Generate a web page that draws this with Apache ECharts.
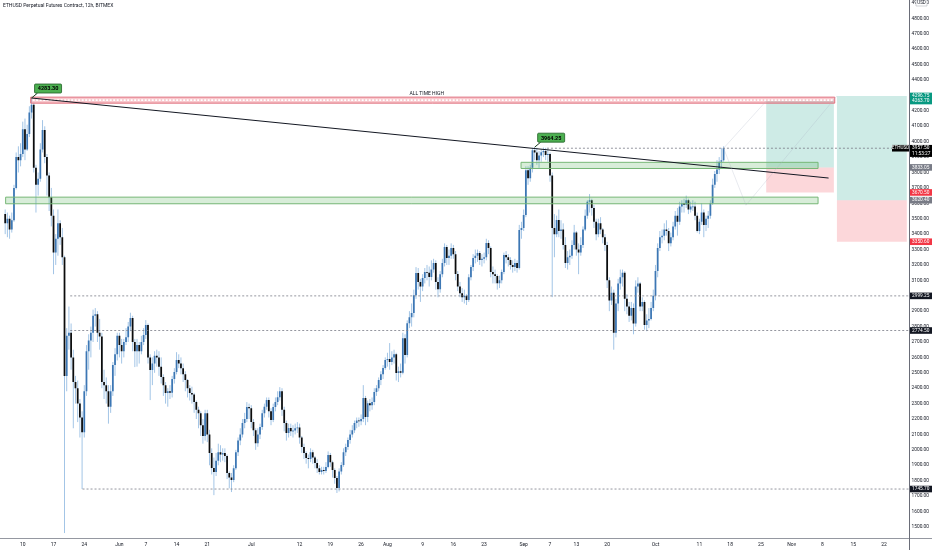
<!DOCTYPE html>
<html>
<head>
<meta charset="utf-8">
<title>ETHUSD Perpetual Futures Contract, 12h, BITMEX</title>
<script src="https://cdn.jsdelivr.net/npm/echarts@6/dist/echarts.min.js"></script>
<style>
html, body { margin: 0; padding: 0; background: #fff; }
#chart { width: 932px; height: 550px; }
</style>
</head>
<body>
<div id="chart"></div>
<script>
// 12h candles, one row per candle: [close, low, high]; open = previous close
// first candle opens 6 May 2021 00:00, x unit = days from 10 May
var firstOpen = 3530;
var firstDay = -4;

var may = [
  [3470,3400,3560],[3500,3380,3540],[3430,3370,3520],[3490,3410,3540],
  [3700,3480,3720],[3900,3690,3930],[3880,3800,3970],[3920,3840,3990],
  [4080,3900,4130],[3950,3880,4150],[4050,3940,4110],[4190,4030,4230],
  [4240,4150,4283.3],[3830,3800,4250],[3720,3540,3850],[3760,3650,3800],
  [3950,3740,3990],[4075,3930,4140],[3900,3860,4100],[3780,3650,3920],
  [3640,3550,3800],[3520,3450,3700],[3280,3140,3560],[3370,3200,3400],
  [3470,3260,3560],[3380,3330,3490],[3250,3200,3440],[2480,1460,3260],
  [2740,2380,2790],[2760,2650,2930],[2600,2520,2820],[2440,2140,2650],
  [2400,2300,2480],[2300,2180,2450],[2210,2080,2330],[2115,1745.7,2250],
  [2380,2080,2420],[2640,2350,2680],[2710,2520,2750],[2760,2600,2800],
  [2870,2700,2910],[2880,2800,2920],[2760,2700,2900],[2735,2650,2850],
  [2440,2400,2760],[2420,2330,2520],[2380,2300,2470],[2280,2170,2420],
  [2380,2240,2420],[2550,2350,2570],[2620,2480,2660],[2740,2580,2760]
];
var jun = [
  [2680,2600,2760],[2640,2560,2720],[2700,2600,2720],[2730,2680,2790],
  [2800,2700,2830],[2855,2770,2890],[2700,2640,2870],[2640,2537,2720],
  [2680,2540,2720],[2640,2560,2700],[2700,2620,2740],[2745,2680,2790],
  [2810,2720,2842],[2600,2560,2820],[2518,2323,2620],[2560,2420,2600],
  [2610,2500,2640],[2600,2540,2650],[2540,2480,2640],[2472,2430,2600],
  [2420,2350,2490],[2369,2300,2440],[2380,2280,2400],[2370,2330,2420],
  [2460,2340,2480],[2505,2430,2530],[2583,2490,2634],[2560,2530,2620],
  [2530,2490,2600],[2490,2440,2560],[2453,2380,2510],[2400,2340,2460],
  [2369,2320,2420],[2360,2300,2410],[2310,2240,2370],[2260,2200,2320],
  [2238,2140,2280],[2160,2090,2250],[2090,2040,2200],[2238,2060,2260],
  [2100,2050,2260],[1979,1900,2130],[1882,1840,2010],[1856,1706,1950],
  [1930,1830,1980],[1985,1900,2040],[1970,1920,2030],[1980,1930,2010],
  [1960,1920,2010],[1849,1810,1970],[1820,1750,1860],[1804,1726,1850],
  [1880,1790,1900],[1985,1870,2000],[2060,1960,2080],[2100,2030,2140],
  [2174,2080,2200],[2200,2140,2240],[2278,2180,2310],[2270,2200,2300]
];
var jul = [
  [2180,2140,2290],[2128,2090,2200],[2043,2000,2140],[2100,2020,2140],
  [2148,2070,2170],[2238,2130,2260],[2280,2210,2300],[2323,2260,2340],
  [2250,2210,2340],[2193,2160,2270],[2278,2180,2300],[2310,2250,2340],
  [2342,2290,2380],[2381,2320,2407],[2260,2220,2400],[2174,2120,2280],
  [2109,2060,2190],[2141,2080,2170],[2120,2090,2170],[2125,2080,2160],
  [2140,2100,2170],[2145,2110,2180],[2080,2040,2170],[2018,1980,2090],
  [1980,1940,2040],[1947,1910,1990],[1940,1880,1970],[1985,1920,2010],
  [1950,1910,2000],[1914,1880,1960],[1880,1850,1940],[1856,1840,1900],
  [1870,1840,1890],[1862,1840,1890],[1888,1850,1920],[1966,1880,1990],
  [1920,1890,1980],[1869,1820,1930],[1817,1780,1880],[1752,1720,1830],
  [1860,1730,1880],[1901,1840,1920],[1985,1890,2010],[2018,1960,2040],
  [2064,2000,2080],[2100,2040,2130],[2128,2080,2160],[2174,2110,2190],
  [2190,2140,2210],[2185,2150,2210],[2200,2160,2230],[2336,2180,2420],
  [2213,2160,2350],[2303,2180,2320],[2290,2250,2330],[2310,2260,2340],
  [2375,2290,2400],[2400,2350,2420],[2453,2380,2470],[2490,2420,2510],
  [2531,2460,2550],[2583,2520,2600]
];
var aug = [
  [2590,2540,2630],[2570,2520,2693],[2600,2550,2640],[2620,2560,2650],
  [2498,2450,2630],[2510,2440,2540],[2500,2470,2560],[2725,2490,2760],
  [2615,2560,2750],[2822,2600,2840],[2860,2790,2900],[2888,2800,2950],
  [3004,2860,3040],[3147,2980,3186],[3089,3040,3180],[3060,2960,3110],
  [3115,3030,3140],[3154,3080,3180],[3150,3100,3200],[3121,3060,3190],
  [3170,3100,3230],[3212,3150,3240],[3089,3040,3230],[3043,2990,3120],
  [3140,3020,3160],[3212,3120,3240],[3316,3190,3340],[3245,3200,3330],
  [3260,3200,3300],[3310,3240,3340],[3270,3240,3330],[3141,3100,3290],
  [3060,3030,3160],[3017,2990,3090],[2990,2960,3050],[3000,2950,3040],
  [2972,2940,3010],[3120,2960,3140],[3186,3100,3200],[3245,3160,3270],
  [3260,3210,3300],[3277,3220,3300],[3232,3200,3290],[3240,3190,3270],
  [3250,3210,3280],[3342,3230,3370],[3310,3270,3360],[3154,3120,3320],
  [3140,3080,3190],[3128,3080,3170],[3082,3040,3140],[3100,3050,3130],
  [3154,3080,3170],[3264,3140,3280],[3250,3210,3290],[3232,3190,3270],
  [3200,3170,3250],[3186,3150,3230],[3212,3160,3240],[3180,3150,3230],
  [3426,3170,3460],[3440,3370,3480]
];
var sep = [
  [3524,3420,3560],[3815,3510,3840],[3763,3720,3840],[3830,3740,3850],
  [3945,3800,3960],[3930,3880,3964.25],[3880,3850,3960],[3910,3830,3940],
  [3932,3870,3950],[3940,3900,3962],[3913,3880,3960],[3920,3870,3950],
  [3780,3740,3930],[3439,2991,3800],[3400,3250,3530],[3491,3380,3520],
  [3420,3380,3560],[3430,3370,3490],[3330,3300,3470],[3212,3180,3380],
  [3250,3170,3290],[3260,3200,3300],[3330,3240,3360],[3410,3300,3460],
  [3300,3260,3420],[3280,3140,3340],[3330,3260,3380],[3430,3310,3450],
  [3520,3420,3560],[3610,3500,3620],[3620,3540,3660],[3570,3520,3630],
  [3480,3440,3590],[3400,3360,3500],[3470,3380,3500],[3430,3400,3510],
  [3380,3340,3440],[3330,3290,3400],[3100,3050,3350],[2970,2900,3120],
  [3020,2940,3060],[2760,2650,3040],[2950,2730,2980],[3080,2900,3110],
  [3120,3040,3170],[3150,3060,3170],[2980,2900,3160],[2930,2880,3010],
  [2870,2830,2960],[2920,2840,2960],[2820,2750,2950],[3060,2800,3100],
  [3080,3020,3120],[2930,2900,3090],[2960,2900,2990],[2810,2780,2970],
  [2840,2770,2880],[2850,2790,2920],[2920,2840,2960],[3000,2900,3040]
];
var oct = [
  [3160,2970,3200],[3310,3120,3340],[3380,3290,3420],[3390,3340,3430],
  [3430,3360,3470],[3420,3390,3490],[3340,3290,3440],[3380,3320,3410],
  [3450,3360,3480],[3520,3430,3550],[3480,3390,3570],[3580,3460,3610],
  [3600,3540,3620],[3590,3540,3630],[3620,3570,3650],[3560,3530,3630],
  [3580,3540,3610],[3580,3550,3620],[3520,3490,3610],[3420,3410,3540],
  [3480,3400,3500],[3540,3460,3600],[3460,3380,3560],[3500,3420,3520],
  [3520,3440,3550],[3600,3500,3620],[3720,3590,3760],[3790,3700,3810],
  [3820,3740,3880],[3870,3790,3900],[3880,3830,3960],[3957.5,3870,3970]
];

// date labels on the time axis: [day, text]
var xTicks = [
  [0,'10'],[7,'17'],[14,'24'],[22,'Jun'],[28,'7'],[35,'14'],[42,'21'],
  [52,'Jul'],[63,'12'],[70,'19'],[77,'26'],[83,'Aug'],[91,'9'],[98,'16'],
  [105,'23'],[114,'Sep'],[120,'7'],[126,'13'],[133,'20'],[144,'Oct'],
  [154,'11'],[161,'18'],[168,'25'],[175,'Nov'],[182,'8'],[189,'15'],[196,'22']
];

// drawings: [dayFrom, priceLow, dayTo, priceHigh]
var athZone = [[1.8, 4250, 184.8, 4289]];
var supportZones = [[-3.9, 3597, 181, 3640], [113.4, 3826, 181, 3866]];
var targetZones = [[169.2, 3833.05, 184.6, 4263.7], [185.3, 3620.4, 201.2, 4296.75]];
var stopZones = [[169.2, 3670.5, 184.6, 3833.05], [185.3, 3350.6, 201.2, 3620.4]];
var trendLine = [[2, 4283.3], [183.4, 3764]];
var projA = [[159.5, 3957.5], [169.2, 4263.7]];
var projB = [[159.5, 3957.5], [164.6, 3588], [185.3, 4296.75]];
// dotted horizontal levels: [dayFrom, price]
var levels = [[10.8, 2999.25], [10.8, 2774.5], [13.6, 1745.7], [119.3, 3957.5]];
var callouts = [[2, 4283.3], [116.5, 3964.25]];

// price tags on the right scale
var tealTags = [[4296.75, '4296.75'], [4263.7, '4263.70']];
var grayTags = [[3833.05, '3833.05'], [3620.4, '3620.40']];
var redTags = [[3670.5, '3670.50'], [3350.6, '3350.60']];
var blackTags = [[2999.25, '2999.25'], [2774.5, '2774.50'], [1745.7, '1745.70']];
var lastPrice = 3957.5;
var countdown = '11:53:27';

var xMin = -4.5, xMax = 201.6;

// build candle rows [t, open, close, low, high]
var candles = [];
var prev = firstOpen;
[may, jun, jul, aug, sep, oct].forEach(function (month) {
  month.forEach(function (r) {
    candles.push([firstDay + candles.length * 0.5, prev, r[0], r[1], r[2]]);
    prev = r[0];
  });
});

var tickMap = {};
xTicks.forEach(function (t) { tickMap[t[0]] = t[1]; });

function drawCandle(params, api) {
  var t = api.value(0);
  var o = api.coord([t, api.value(1)]);
  var c = api.coord([t, api.value(2)]);
  var lo = api.coord([t, api.value(3)]);
  var hi = api.coord([t, api.value(4)]);
  var w = api.size([0.5, 0])[0] * 0.8;
  var up = api.value(2) >= api.value(1);
  var top = Math.min(o[1], c[1]);
  var h = Math.max(Math.abs(o[1] - c[1]), 0.8);
  return {
    type: 'group',
    children: [
      { type: 'line', shape: { x1: hi[0], y1: hi[1], x2: lo[0], y2: lo[1] },
        style: { stroke: '#a3c5e6', lineWidth: 1 } },
      { type: 'rect', shape: { x: o[0] - w / 2, y: top, width: w, height: h },
        style: { fill: up ? '#3d77b4' : '#0c0c0c' } }
    ]
  };
}

function zoneRenderer(fill, stroke, extra) {
  return function (params, api) {
    var a = api.coord([api.value(0), api.value(3)]);
    var b = api.coord([api.value(2), api.value(1)]);
    var kids = [{
      type: 'rect',
      shape: { x: a[0], y: a[1], width: b[0] - a[0], height: b[1] - a[1] },
      style: { fill: fill, stroke: stroke || null, lineWidth: stroke ? 1 : 0 }
    }];
    if (extra) kids = kids.concat(extra(a, b));
    return { type: 'group', children: kids };
  };
}

function athExtras(a, b) {
  var mid = (a[1] + b[1]) / 2;
  return [
    { type: 'line', shape: { x1: a[0] + 2, y1: mid, x2: b[0] - 2, y2: mid },
      style: { stroke: '#ffffff', lineWidth: 1.6, lineDash: [2, 1.5] } },
    { type: 'text', x: (a[0] + b[0]) / 2 - 6, y: a[1] - 1,
      style: { text: 'ALL TIME HIGH', fill: '#131722', fontSize: 5, fontFamily: 'Roboto',
        align: 'center', verticalAlign: 'bottom', textAlign: 'center', textVerticalAlign: 'bottom' } }
  ];
}

function drawCallout(params, api) {
  var p = api.coord([api.value(0), api.value(1)]);
  var bx = p[0] + 3, by = p[1] - 14, bw = 27, bh = 9;
  return {
    type: 'group',
    children: [
      { type: 'line', shape: { x1: p[0], y1: p[1], x2: bx + 3, y2: by + bh },
        style: { stroke: '#1b3d1f', lineWidth: 1 } },
      { type: 'rect', shape: { x: bx, y: by, width: bw, height: bh, r: 1 },
        style: { fill: '#4caf50', stroke: '#1f5f25', lineWidth: 0.8 } },
      { type: 'text', x: bx + bw / 2, y: by + bh / 2 + 0.5,
        style: { text: api.value(1).toFixed(2), fill: '#000', fontSize: 5.5, fontWeight: 'bold',
          fontFamily: 'Roboto', align: 'center', verticalAlign: 'middle',
          textAlign: 'center', textVerticalAlign: 'middle' } }
    ]
  };
}

function lineSeries(data, color, width, dash) {
  return {
    type: 'line', data: data, symbol: 'none', silent: true, animation: false, z: 5,
    lineStyle: { color: color, width: width, type: dash || 'solid' }
  };
}

function zoneSeries(data, fill, stroke, extra) {
  return {
    type: 'custom', data: data, renderItem: zoneRenderer(fill, stroke, extra),
    encode: { x: [0, 2], y: [1, 3] }, silent: true, animation: false, clip: true, z: 4
  };
}

var series = [
  zoneSeries(targetZones, 'rgba(8,153,129,0.2)'),
  zoneSeries(stopZones, 'rgba(242,54,69,0.2)'),
  {
    type: 'custom', data: candles, renderItem: drawCandle,
    encode: { x: 0, y: [1, 2, 3, 4] }, animation: false, clip: true, z: 3
  },
  zoneSeries(supportZones, 'rgba(76,175,80,0.22)', '#76b776'),
  zoneSeries(athZone, 'rgba(236,96,112,0.35)', '#e0707e', athExtras),
  lineSeries(trendLine, '#131722', 1),
  lineSeries(projA, 'rgba(170,178,195,0.45)', 0.6),
  lineSeries(projB, 'rgba(170,178,195,0.45)', 0.6)
];
levels.forEach(function (lv) {
  series.push(lineSeries([[lv[0], lv[1]], [xMax, lv[1]]], '#787b86', 0.8, [2, 2]));
});
series.push({
  type: 'custom', data: callouts, renderItem: drawCallout,
  encode: { x: 0, y: 1 }, animation: false, clip: false, z: 10
});

var chart = echarts.init(document.getElementById('chart'));
chart.setOption({
  backgroundColor: '#ffffff',
  animation: false,
  title: {
    text: 'ETHUSD Perpetual Futures Contract, 12h, BITMEX',
    left: 3, top: 3, padding: 0,
    textStyle: { fontSize: 5, fontWeight: 'normal', color: '#131722', fontFamily: 'Roboto' }
  },
  grid: { left: 0, right: 23, top: 3, bottom: 7.7 },
  xAxis: {
    type: 'value', min: xMin, max: xMax, interval: 0.5,
    axisLine: { show: false }, axisTick: { show: false }, splitLine: { show: false },
    axisLabel: {
      fontSize: 5, color: '#131722', fontFamily: 'Roboto', margin: 2, verticalAlign: 'middle',
      formatter: function (v) {
        var d = Math.round(v);
        if (Math.abs(v - d) > 0.01) return '';
        return tickMap[d] || '';
      }
    }
  },
  yAxis: {
    type: 'value', position: 'right', min: 1400, max: 4900, interval: 100,
    axisLine: { show: false }, axisTick: { show: false }, splitLine: { show: false },
    axisLabel: {
      fontSize: 4.8, color: '#131722', fontFamily: 'Roboto', margin: 3,
      formatter: function (v) { return v <= 1400 ? '' : v.toFixed(2); }
    }
  },
  series: series
});

// price tags and frame, placed through the y scale
var g = [
  { type: 'line', shape: { x1: 0, y1: 538.5, x2: 932, y2: 538.5 },
    style: { stroke: '#9598a1', lineWidth: 1 }, z: 50 },
  { type: 'line', shape: { x1: 909.5, y1: 0, x2: 909.5, y2: 550 },
    style: { stroke: '#6a6d78', lineWidth: 1 }, z: 50 },
  { type: 'rect', shape: { x: 916, y: 0, width: 11, height: 6 },
    style: { fill: '#ffffff', stroke: '#b2b5be', lineWidth: 0.6 }, z: 60 },
  { type: 'text', x: 921.5, y: 3,
    style: { text: 'USD', fill: '#131722', fontSize: 4.5, fontFamily: 'Roboto',
      align: 'center', verticalAlign: 'middle', textAlign: 'center', textVerticalAlign: 'middle' }, z: 61 }
];
function addTag(price, text, bg) {
  var y = chart.convertToPixel({ yAxisIndex: 0 }, price);
  g.push({ type: 'rect', shape: { x: 910, y: y - 3.3, width: 22, height: 6.6 }, style: { fill: bg }, z: 70 });
  g.push({ type: 'text', x: 912, y: y,
    style: { text: text, fill: '#ffffff', fontSize: 4.8, fontFamily: 'Roboto',
      verticalAlign: 'middle', textVerticalAlign: 'middle' }, z: 71 });
}
tealTags.forEach(function (t) { addTag(t[0], t[1], '#089981'); });
grayTags.forEach(function (t) { addTag(t[0], t[1], '#787b86'); });
redTags.forEach(function (t) { addTag(t[0], t[1], '#f23645'); });
blackTags.forEach(function (t) { addTag(t[0], t[1], '#131722'); });

var ly = chart.convertToPixel({ yAxisIndex: 0 }, lastPrice);
g.push({ type: 'rect', shape: { x: 910, y: ly - 3.3, width: 22, height: 12 }, style: { fill: '#000000' }, z: 72 });
g.push({ type: 'text', x: 912, y: ly,
  style: { text: lastPrice.toFixed(2), fill: '#ffffff', fontSize: 4.8, fontFamily: 'Roboto',
    verticalAlign: 'middle', textVerticalAlign: 'middle' }, z: 73 });
g.push({ type: 'text', x: 912, y: ly + 5.5,
  style: { text: countdown, fill: '#ffffff', fontSize: 4.8, fontFamily: 'Roboto',
    verticalAlign: 'middle', textVerticalAlign: 'middle' }, z: 73 });
g.push({ type: 'rect', shape: { x: 892, y: ly - 3.3, width: 17, height: 6.6 }, style: { fill: '#000000' }, z: 72 });
g.push({ type: 'text', x: 900.5, y: ly,
  style: { text: 'ETHUSD', fill: '#ffffff', fontSize: 4.6, fontFamily: 'Roboto',
    align: 'center', verticalAlign: 'middle', textAlign: 'center', textVerticalAlign: 'middle' }, z: 73 });

chart.setOption({ graphic: g });
</script>
</body>
</html>
